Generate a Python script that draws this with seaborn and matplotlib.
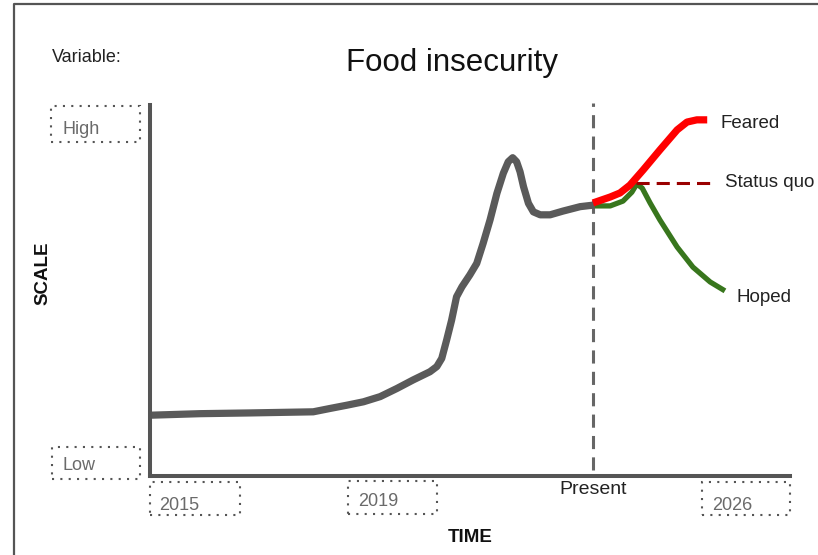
import matplotlib
matplotlib.use("Agg")
import matplotlib.pyplot as plt
from matplotlib.lines import Line2D
from matplotlib.patches import Rectangle
import seaborn as sns
import pandas as pd

# Past trajectory (grey line), time in years, scale 0 (low) .. 100 (high)
hist_time = [2014.13, 2015.10, 2016.12, 2017.40, 2017.74, 2018.09, 2018.42, 2018.76,
             2019.10, 2019.43, 2019.77, 2019.91, 2020.01, 2020.11, 2020.21, 2020.31,
             2020.42, 2020.58, 2020.72, 2020.85, 2020.99, 2021.13, 2021.26, 2021.36,
             2021.45, 2021.53, 2021.60, 2021.67, 2021.77, 2021.87, 2022.01, 2022.21,
             2022.47, 2022.82, 2023.08]
hist_value = [16.4, 16.8, 17.0, 17.3, 18.2, 19.1, 20.0, 21.4,
              23.6, 25.9, 28.1, 29.5, 31.7, 36.7, 42.0, 48.3,
              51.0, 54.2, 57.3, 62.7, 69.0, 76.2, 81.6, 84.7,
              85.8, 84.7, 82.0, 78.0, 73.5, 71.2, 70.4, 70.4,
              71.4, 72.6, 73.0]

# Future scenarios
feared_time = [2023.08, 2023.43, 2023.63, 2023.83, 2024.10, 2024.44, 2024.79, 2024.99, 2025.19, 2025.40]
feared_value = [73.6, 75.2, 76.3, 78.4, 82.5, 87.9, 93.3, 95.4, 96.0, 96.0]

hoped_time = [2023.12, 2023.43, 2023.69, 2023.87, 2023.97, 2024.08, 2024.24, 2024.44,
              2024.79, 2025.11, 2025.46, 2025.76]
hoped_value = [72.8, 72.8, 74.1, 76.5, 78.7, 77.6, 73.6, 69.0,
               61.7, 56.3, 52.3, 49.9]

status_quo_time = [2023.95, 2025.50]
status_quo_value = [79.0, 79.0]

present_time = 2023.08

scenario_labels = ["Feared", "Status quo", "Hoped"]
scenario_label_time = [2025.66, 2025.76, 2026.00]
scenario_label_value = [95.1, 79.0, 48.2]

scale_labels = ["High", "Low"]
year_labels = ["2015", "2019", "2026"]

W, H = 818, 555


def fx(px):
    return px / W


def fy(py):
    return 1 - py / H


def dotted_box(fig, x0, y0, x1, y1, label, tx, ty):
    """Dotted label box, given in pixel coordinates of the figure."""
    fig.add_artist(Rectangle((fx(x0), fy(y1)), fx(x1) - fx(x0), fy(y0) - fy(y1),
                             transform=fig.transFigure, fill=False,
                             edgecolor="#555555", linewidth=1.5,
                             linestyle=(0, (1, 3))))
    fig.text(fx(tx), fy(ty), label, ha="left", va="center",
             fontsize=13, color="#6a6a6a")


sns.set_theme(style="white")
plt.rcParams["font.family"] = ["Liberation Sans", "DejaVu Sans"]

fig = plt.figure(figsize=(8.18, 5.55), dpi=100)
ax = fig.add_axes([fx(150), fy(476), fx(790) - fx(150), fy(105) - fy(476)])

hist_df = pd.DataFrame({"time": hist_time, "value": hist_value})
feared_df = pd.DataFrame({"time": feared_time, "value": feared_value})
hoped_df = pd.DataFrame({"time": hoped_time, "value": hoped_value})
sq_df = pd.DataFrame({"time": status_quo_time, "value": status_quo_value})

ax.axvline(present_time, ymin=0.016, ymax=1.005, color="#666666",
           linewidth=2.2, linestyle=(0, (4.3, 2.7)), clip_on=False)

sns.lineplot(data=hist_df, x="time", y="value", ax=ax, color="#5a5a5a",
             linewidth=5.2, estimator=None, solid_capstyle="round",
             solid_joinstyle="round")
sns.lineplot(data=hoped_df, x="time", y="value", ax=ax, color="#38761d",
             linewidth=3.8, estimator=None, solid_capstyle="butt",
             solid_joinstyle="round")
sns.lineplot(data=sq_df, x="time", y="value", ax=ax, color="#990000",
             linewidth=2.2, estimator=None, linestyle=(0, (4.3, 2.3)))
sns.lineplot(data=feared_df, x="time", y="value", ax=ax, color="#ff0000",
             linewidth=5.2, estimator=None, solid_capstyle="butt",
             solid_joinstyle="round")

for lab, t, v in zip(scenario_labels, scenario_label_time, scenario_label_value):
    ax.text(t, v, lab, ha="left", va="center", fontsize=13.5, color="#222222")

ax.set_xlim(2014.086, 2027.081)
ax.set_ylim(0, 100)
ax.set_xticks([])
ax.set_yticks([])
ax.set_xlabel("")
ax.set_ylabel("")
sns.despine(ax=ax)
for side in ["left", "bottom"]:
    ax.spines[side].set_color("#555555")
    ax.spines[side].set_linewidth(2.9)

ax.text(present_time, -0.037, "Present", transform=ax.get_xaxis_transform(),
        ha="center", va="center", fontsize=14, color="#222222")

# Text around the plot
fig.text(fx(452), fy(63), "Food insecurity", ha="center", va="center",
         fontsize=22.5, color="#111111")
fig.text(fx(52), fy(57), "Variable:", ha="left", va="center",
         fontsize=13, color="#222222")
fig.text(fx(43), fy(273), "SCALE", ha="center", va="center", rotation=90,
         fontsize=13.5, fontweight="bold", color="#111111")
fig.text(fx(470), fy(538), "TIME", ha="center", va="center",
         fontsize=13.5, fontweight="bold", color="#111111")

dotted_box(fig, 51, 106, 140, 142, scale_labels[0], 63, 130)
dotted_box(fig, 52, 447, 140, 479, scale_labels[1], 63, 466)
dotted_box(fig, 150, 482, 240, 515, year_labels[0], 159, 506)
dotted_box(fig, 348, 481, 437, 514, year_labels[1], 358, 501)
dotted_box(fig, 702, 482, 790, 515, year_labels[2], 712, 506)

# Outer frame (left and top edges)
fig.add_artist(Line2D([fx(14), fx(14), fx(818)], [fy(555), fy(4), fy(4)],
                      transform=fig.transFigure, color="#555555", linewidth=1.6))

fig.savefig("out.png", dpi=100)
